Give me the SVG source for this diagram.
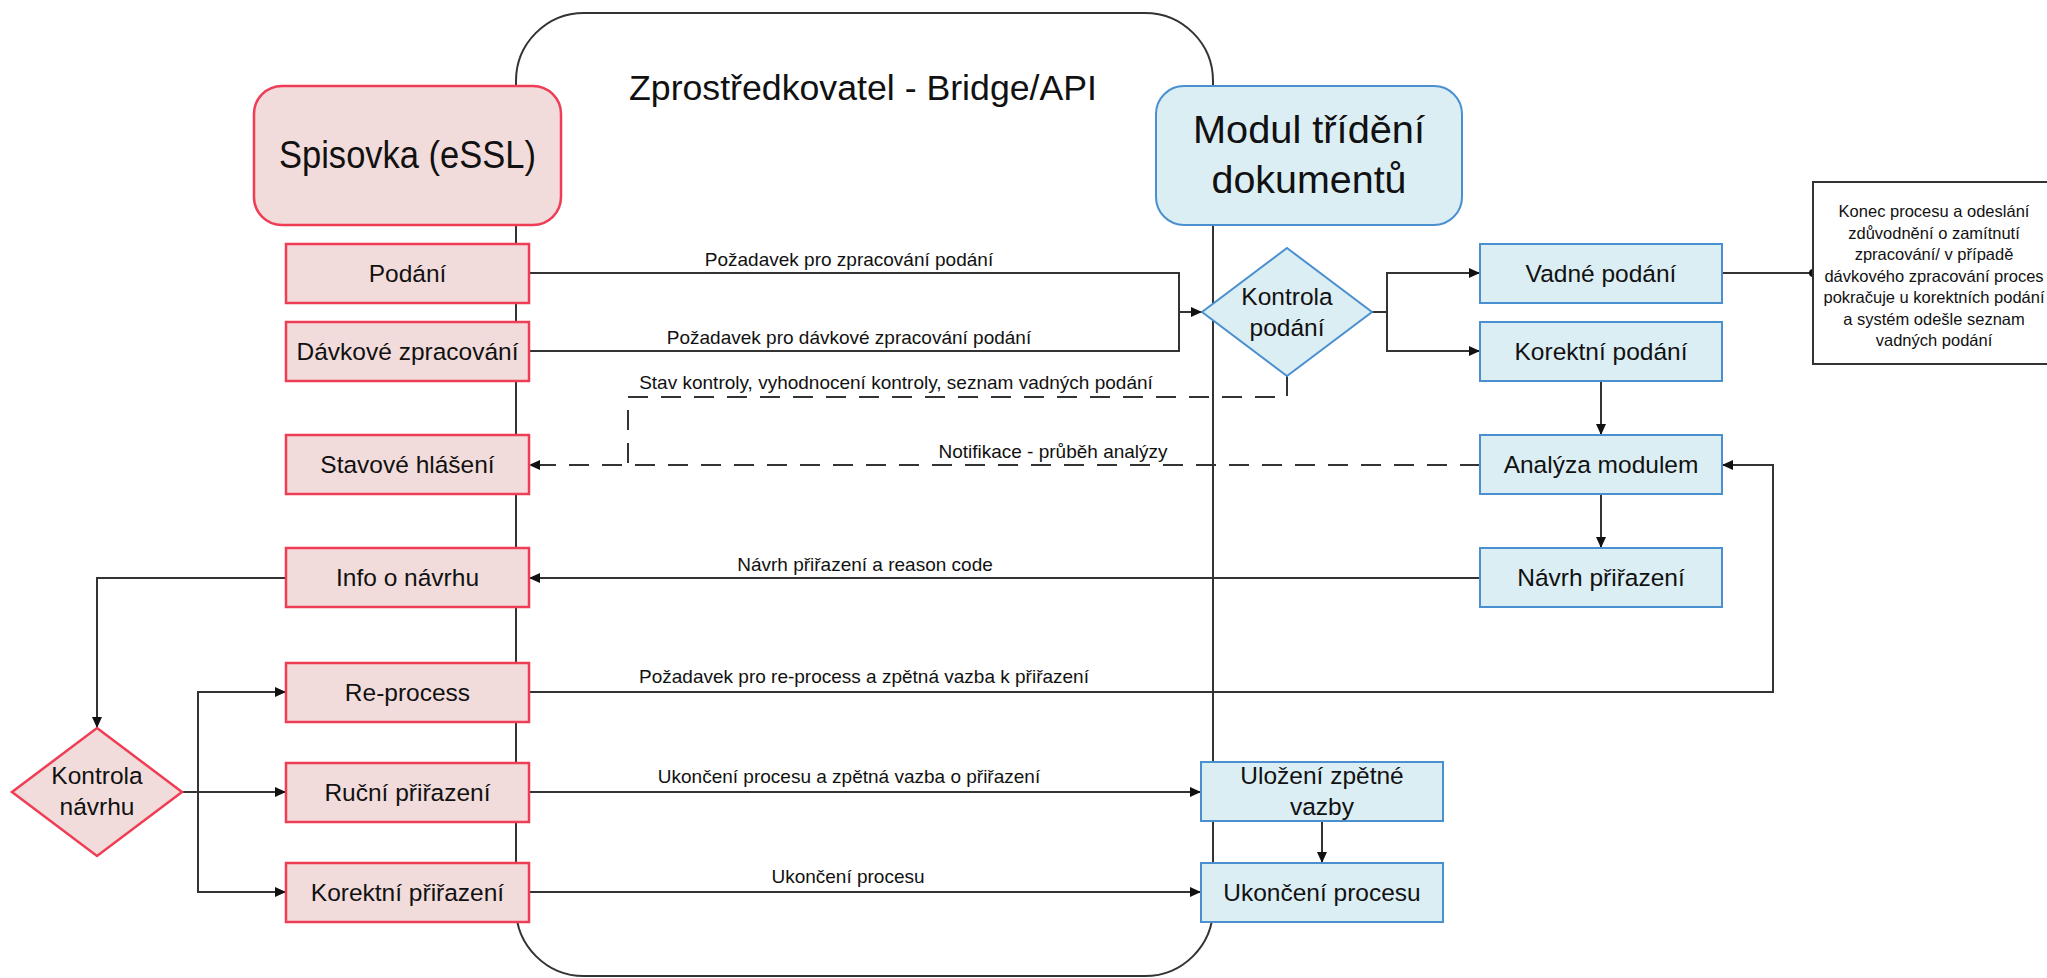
<svg xmlns="http://www.w3.org/2000/svg" width="2047" height="978" viewBox="0 0 2047 978">
<defs>
<marker id="arr" markerWidth="11" markerHeight="10" refX="11" refY="5" orient="auto" markerUnits="userSpaceOnUse">
<path d="M0,0 L11,5 L0,10 z" fill="#111"/>
</marker>
<style>
text{font-family:"Liberation Sans",Arial,sans-serif;fill:#111}
.red{fill:#f2dcdb;stroke:#ef3d55;stroke-width:2.5}
.blue{fill:#dbeef4;stroke:#4a90cf;stroke-width:2}
.lbl{font-size:24.5px;text-anchor:middle}
.big{font-size:38px;text-anchor:middle}
.cl{font-size:19px;text-anchor:middle}
.note{font-size:16.5px;text-anchor:middle}
.ln{fill:none;stroke:#333;stroke-width:2}
.ar{marker-end:url(#arr)}
.dash{stroke-dasharray:20 13}
</style>
</defs>
<rect width="2047" height="978" fill="#fff"/>

<g id="bridge">
<rect x="516" y="13" width="697" height="963" rx="68" ry="68" fill="none" stroke="#333" stroke-width="2"/>
<text x="863" y="100" font-size="35.5" text-anchor="middle" textLength="468" lengthAdjust="spacingAndGlyphs">Zprostředkovatel - Bridge/API</text>
</g>

<g id="connectors">
<path class="ln ar" d="M529,273 H1179 V312 H1202"/>
<path class="ln" d="M529,351 H1179 V312"/>
<path class="ln ar" d="M1372,312 H1387 V273 H1480"/>
<path class="ln ar" d="M1387,312 V351 H1480"/>
<path class="ln" d="M1722,273 H1813"/>
<circle cx="1813" cy="273" r="4" fill="#111"/>
<path class="ln ar" d="M1601,380 V435"/>
<path class="ln ar" d="M1601,494 V548"/>
<path class="ln ar dash" d="M1480,465 H529"/>
<path class="ln dash" d="M1287,376 V397 H628 V465"/>
<path class="ln ar" d="M1480,578 H529"/>
<path class="ln ar" d="M286,578 H97 V728"/>
<path class="ln ar" d="M182,792 H286"/>
<path class="ln ar" d="M198,792 V692 H286"/>
<path class="ln ar" d="M198,792 V892 H286"/>
<path class="ln ar" d="M529,692 H1773 V465 H1722"/>
<path class="ln ar" d="M529,792 H1201"/>
<path class="ln ar" d="M529,892 H1201"/>
<path class="ln ar" d="M1322,821 V863"/>
<text class="cl" x="849" y="266">Požadavek pro zpracování podání</text>
<text class="cl" x="849" y="344">Požadavek pro dávkové zpracování podání</text>
<text class="cl" x="896" y="389">Stav kontroly, vyhodnocení kontroly, seznam vadných podání</text>
<text class="cl" x="1053" y="458">Notifikace - průběh analýzy</text>
<text class="cl" x="865" y="571">Návrh přiřazení a reason code</text>
<text class="cl" x="864" y="683">Požadavek pro re-process a zpětná vazba k přiřazení</text>
<text class="cl" x="849" y="783">Ukončení procesu a zpětná vazba o přiřazení</text>
<text class="cl" x="848" y="883">Ukončení procesu</text>
</g>

<g id="spisovka">
<rect class="red" x="254" y="86" width="307" height="139" rx="28" ry="28"/>
<text class="big" x="407.5" y="168" textLength="257" lengthAdjust="spacingAndGlyphs">Spisovka (eSSL)</text>
</g>
<g id="modul">
<rect class="blue" x="1156" y="86" width="306" height="139" rx="28" ry="28"/>
<text class="big" x="1309" y="143" textLength="232" lengthAdjust="spacingAndGlyphs">Modul třídění</text>
<text class="big" x="1309" y="193" textLength="195" lengthAdjust="spacingAndGlyphs">dokumentů</text>
</g>

<g id="podani"><rect class="red" x="286" y="244" width="243" height="59"/><text class="lbl" x="407.5" y="282">Podání</text></g>
<g id="davkove"><rect class="red" x="286" y="322" width="243" height="59"/><text class="lbl" x="407.5" y="360">Dávkové zpracování</text></g>
<g id="stavove"><rect class="red" x="286" y="435" width="243" height="59"/><text class="lbl" x="407.5" y="473">Stavové hlášení</text></g>
<g id="info"><rect class="red" x="286" y="548" width="243" height="59"/><text class="lbl" x="407.5" y="586">Info o návrhu</text></g>
<g id="reprocess"><rect class="red" x="286" y="663" width="243" height="59"/><text class="lbl" x="407.5" y="701">Re-process</text></g>
<g id="rucni"><rect class="red" x="286" y="763" width="243" height="59"/><text class="lbl" x="407.5" y="801">Ruční přiřazení</text></g>
<g id="korektni-prirazeni"><rect class="red" x="286" y="863" width="243" height="59"/><text class="lbl" x="407.5" y="901">Korektní přiřazení</text></g>

<g id="kontrola-navrhu">
<polygon class="red" points="97,728 182,792 97,856 12,792"/>
<text class="lbl" x="97" y="784">Kontrola</text>
<text class="lbl" x="97" y="815">návrhu</text>
</g>

<g id="kontrola-podani">
<polygon class="blue" points="1287,248 1372,312 1287,376 1202,312"/>
<text class="lbl" x="1287" y="305">Kontrola</text>
<text class="lbl" x="1287" y="336">podání</text>
</g>

<g id="vadne"><rect class="blue" x="1480" y="244" width="242" height="59"/><text class="lbl" x="1601" y="282">Vadné podání</text></g>
<g id="korektni-podani"><rect class="blue" x="1480" y="322" width="242" height="59"/><text class="lbl" x="1601" y="360">Korektní podání</text></g>
<g id="analyza"><rect class="blue" x="1480" y="435" width="242" height="59"/><text class="lbl" x="1601" y="473">Analýza modulem</text></g>
<g id="navrh"><rect class="blue" x="1480" y="548" width="242" height="59"/><text class="lbl" x="1601" y="586">Návrh přiřazení</text></g>
<g id="ulozeni"><rect class="blue" x="1201" y="762" width="242" height="59"/><text class="lbl" x="1322" y="784">Uložení zpětné</text><text class="lbl" x="1322" y="815">vazby</text></g>
<g id="ukonceni"><rect class="blue" x="1201" y="863" width="242" height="59"/><text class="lbl" x="1322" y="901">Ukončení procesu</text></g>

<g id="note">
<rect x="1813" y="182" width="240" height="182" fill="#fff" stroke="#333" stroke-width="2"/>
<text class="note" x="1934" y="217">Konec procesu a odeslání</text>
<text class="note" x="1934" y="238.5">zdůvodnění o zamítnutí</text>
<text class="note" x="1934" y="260">zpracování/ v případě</text>
<text class="note" x="1934" y="281.5">dávkového zpracování proces</text>
<text class="note" x="1934" y="303">pokračuje u korektních podání</text>
<text class="note" x="1934" y="324.5">a systém odešle seznam</text>
<text class="note" x="1934" y="346">vadných podání</text>
</g>
</svg>
